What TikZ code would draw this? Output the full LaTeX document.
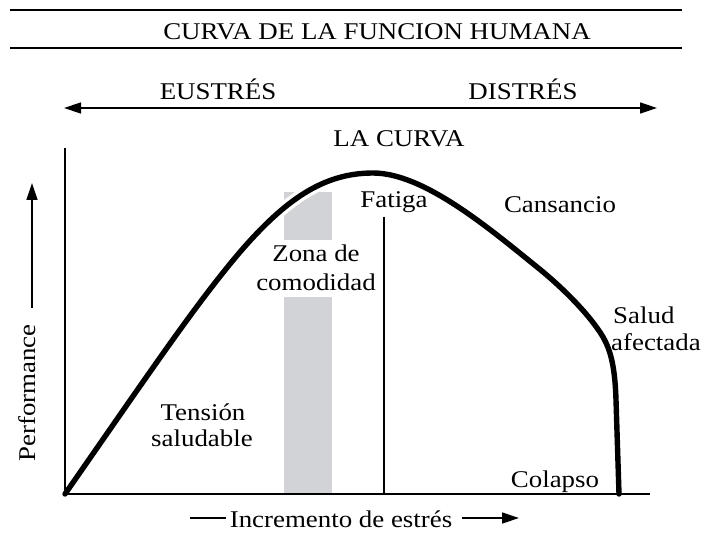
\documentclass[tikz,border=0pt]{standalone}
\usepackage{fontspec}
\setmainfont{Liberation Serif}[FakeStretch=1.12]
\usetikzlibrary{arrows.meta}
\definecolor{zonegray}{RGB}{210,211,214}
\begin{document}
\begin{tikzpicture}[x=1bp,y=-1bp,
  lbl/.style={inner sep=0pt, anchor=base, font=\fontsize{24bp}{27bp}\selectfont},
  rule/.style={line width=1.4bp},
  axisline/.style={line width=1.3bp},
  tipped/.style={-{Triangle[length=17bp,width=11bp]}},
  bothtipped/.style={{Triangle[length=17bp,width=11bp]}-{Triangle[length=17bp,width=11bp]}},
  perfcurve/.style={line width=5.4bp, line cap=round, line join=round,
     preaction={draw, white, line width=12bp}},
]
\useasboundingbox (0,0) rectangle (707,554);

% header rules and title
\coordinate (r1a) at (10,10);  \coordinate (r1b) at (682,10);
\coordinate (r2a) at (10,48);  \coordinate (r2b) at (682,48);
\draw[rule] (r1a) -- (r1b);
\draw[rule] (r2a) -- (r2b);
\node[lbl] (title) at (377,40) {CURVA DE LA FUNCION HUMANA};

% eustres / distres arrow
\node[lbl] (eu) at (218,100) {EUSTRÉS};
\node[lbl] (dis) at (523,100) {DISTRÉS};
\coordinate (aL) at (64,108); \coordinate (aR) at (657,108);
\draw[rule, bothtipped] (aL) -- (aR);
\node[lbl] (lacurva) at (399,147) {LA CURVA};

% comfort zone band
\fill[zonegray] (284,192) rectangle (332,240);
\fill[zonegray] (284,297) rectangle (332,494);

% the curve
\coordinate (c0) at (65,494);
\coordinate (c1) at (240,252);
\coordinate (peak) at (373,173);
\coordinate (c4) at (537,267);
\coordinate (c5) at (603,337);
\coordinate (c6) at (616,400);
\coordinate (c7) at (619,494);
\draw[perfcurve] (c0) .. controls (150,372) and (195,305) .. (c1)
   .. controls (285,200) and (323,173) .. (peak)
   .. controls (423,173) and (487,226.5) .. (c4)
   .. controls (562,287) and (590,315) .. (c5)
   .. controls (611,351) and (615,368) .. (c6) -- (c7);

% fatigue line
\coordinate (fTop) at (384,217); \coordinate (fBot) at (384,494);
\draw[line width=1.1bp] (fTop) -- (fBot);

% axes
\coordinate (origin) at (65,494);
\coordinate (yTop) at (65,148);
\coordinate (xEnd) at (650,494);
\draw[axisline] (yTop) -- (origin) -- (xEnd);

% performance label
\node[lbl, rotate=90] (perf) at (35,393) {Performance};
\coordinate (pA) at (32,308); \coordinate (pB) at (32,183);
\draw[axisline, tipped] (pA) -- (pB);

% x label
\node[lbl] (incr) at (341,527) {Incremento de estrés};
\coordinate (iA) at (190,518); \coordinate (iB) at (226,518);
\draw[axisline] (iA) -- (iB);
\coordinate (iC) at (462,518); \coordinate (iD) at (519,518);
\draw[axisline, tipped] (iC) -- (iD);

% region labels
\node[lbl] (fatiga) at (394,208) {Fatiga};
\node[lbl] (zona1) at (316,262) {Zona de};
\node[lbl] (zona2) at (316,290) {comodidad};
\node[lbl] (ten1) at (203,420) {Tensión};
\node[lbl] (ten2) at (202,446) {saludable};
\node[lbl] (cans) at (560,213) {Cansancio};
\node[lbl, anchor=base west] (sal1) at (613,323) {Salud};
\node[lbl, anchor=base west] (sal2) at (611,350) {afectada};
\node[lbl] (colapso) at (555,487) {Colapso};
\end{tikzpicture}
\end{document}
